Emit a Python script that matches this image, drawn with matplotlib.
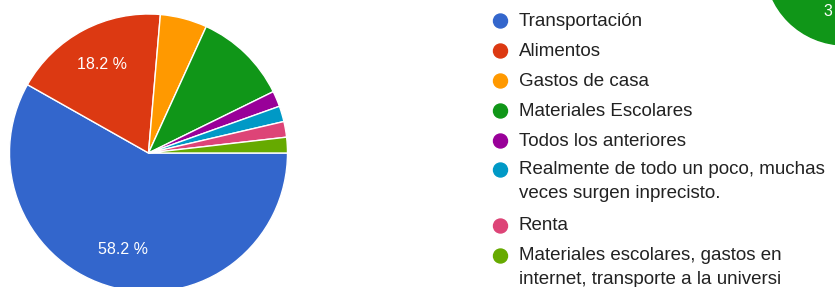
import matplotlib.pyplot as plt
from matplotlib.patches import Circle

labels = ['Transportación', 'Alimentos', 'Gastos de casa', 'Materiales Escolares',
          'Todos los anteriores', 'Realmente de todo un poco, muchas\nveces surgen inprecisto.',
          'Renta', 'Materiales escolares, gastos en\ninternet, transporte a la universi']
counts = [32, 10, 3, 6, 1, 1, 1, 1]
colors = ['#3366cc', '#dc3912', '#ff9900', '#109618', '#990099', '#0099c6', '#dd4477', '#66aa00']

plt.rcParams['font.family'] = ['Liberation Sans', 'DejaVu Sans']

W, H = 835, 287
fig = plt.figure(figsize=(W / 100, H / 100), dpi=100)

# pie
cx, cy, r = 148.5, 153, 139
ax = fig.add_axes([(cx - r) / W, (H - cy - r) / H, 2 * r / W, 2 * r / H])
ax.pie(counts, colors=colors, startangle=0, counterclock=False,
       wedgeprops=dict(edgecolor='white', linewidth=1),
       autopct=lambda p: f'{p:.1f} %' if p > 15 else '', pctdistance=0.72,
       textprops=dict(color='white', fontsize=11.5))
ax.set_xlim(-1, 1)
ax.set_ylim(-1, 1)
ax.set_aspect('equal')
ax.axis('off')

# legend, drawn in pixel coords
bg = fig.add_axes([0, 0, 1, 1])
bg.set_xlim(0, W)
bg.set_ylim(H, 0)
bg.axis('off')
bg.patch.set_alpha(0)

ys = [21, 51, 81, 111, 141, 170, 226, 256]
for y, lab, c in zip(ys, labels, colors):
    bg.add_patch(Circle((500.5, y), 7, color=c))
    for k, line in enumerate(lab.split('\n')):
        bg.text(519, y + 24 * k, line, fontsize=13.5, color='#222222',
                va='center', ha='left')

# piece of the neighbouring chart at top-right corner
bg.add_patch(Circle((845, -35), 80, color='#109618'))
bg.text(823, 11, '3', fontsize=11.5, color='white', va='center', ha='left')

fig.savefig('out.png', dpi=100)
